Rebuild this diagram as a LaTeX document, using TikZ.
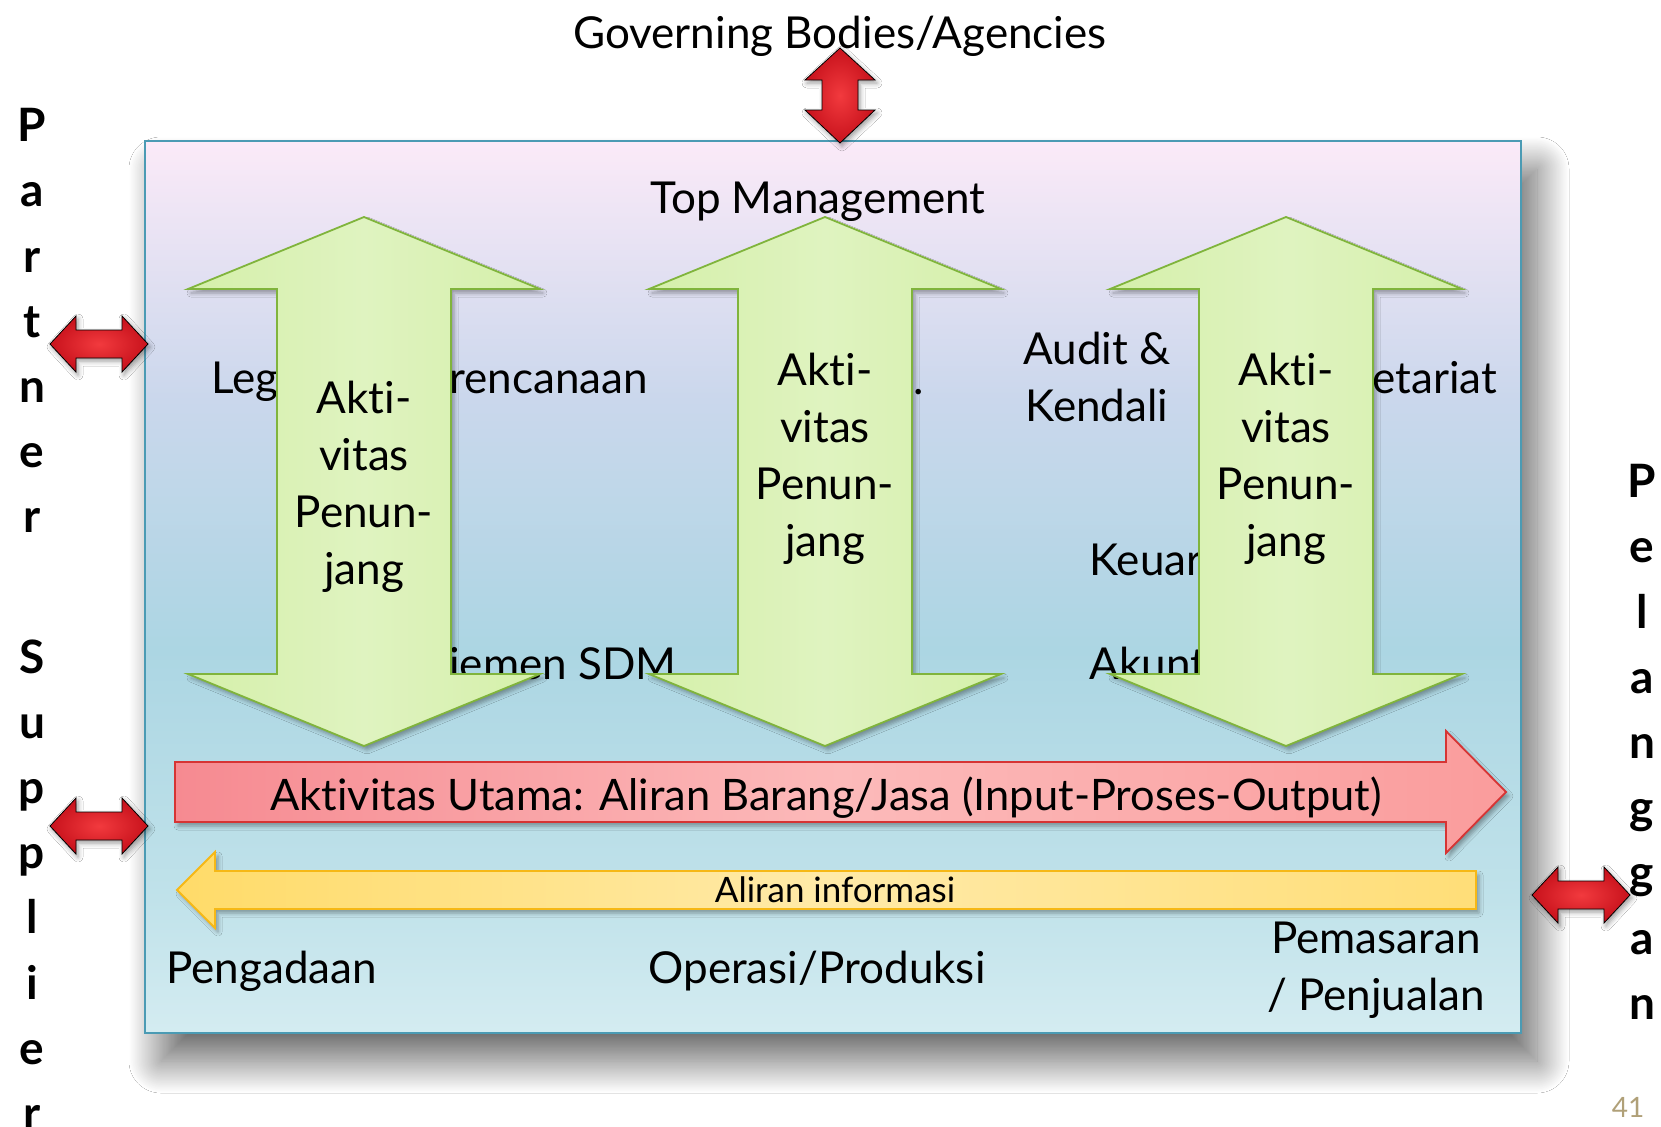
\documentclass[tikz,border=0pt]{standalone}
\usepackage{fontspec}
\setmainfont{Lato}[Ligatures={NoCommon}]
\usepackage{tikz}
\usetikzlibrary{shadows.blur}

\definecolor{panelA}{RGB}{251,234,248}
\definecolor{panelB}{RGB}{202,215,236}
\definecolor{panelC}{RGB}{172,214,227}
\definecolor{panelD}{RGB}{192,226,234}
\definecolor{panelE}{RGB}{212,236,241}
\definecolor{panelline}{RGB}{75,155,180}
\definecolor{supline}{RGB}{128,180,60}
\definecolor{supside}{RGB}{213,240,170}
\definecolor{supmid}{RGB}{223,243,192}
\definecolor{mainline}{RGB}{214,52,52}
\definecolor{mainleft}{RGB}{246,138,145}
\definecolor{mainmid}{RGB}{252,186,186}
\definecolor{mainright}{RGB}{250,156,156}
\definecolor{infoline}{RGB}{246,184,22}
\definecolor{infoleft}{RGB}{255,219,105}
\definecolor{infomid}{RGB}{255,234,168}
\definecolor{inforight}{RGB}{255,222,120}
\definecolor{linkin}{RGB}{242,58,62}
\definecolor{linkout}{RGB}{200,18,28}
\definecolor{pagenum}{RGB}{176,160,120}

\pgfdeclareverticalshading{panelshade}{100bp}{color(0bp)=(panelE); color(25bp)=(panelE);
  color(32.5bp)=(panelD); color(46.5bp)=(panelC); color(60.5bp)=(panelB);
  color(75bp)=(panelA); color(100bp)=(panelA)}

\begin{document}
\begin{tikzpicture}[x=0.5pt, y=-0.5pt,
    panel/.style={draw=panelline, line width=1.2pt, shading=panelshade,
        minimum width=688pt, minimum height=446pt,
        blur shadow={shadow xshift=8pt, shadow yshift=-14pt, shadow blur radius=16pt,
            shadow blur steps=60, shadow opacity=60}},
    support/.style={draw=supline, line width=0.9pt, left color=supside, right color=supside, middle color=supmid,
        blur shadow={shadow xshift=1.5pt, shadow yshift=-2pt, shadow blur radius=2pt, shadow opacity=35}},
    mainflow/.style={draw=mainline, line width=0.9pt, left color=mainleft, right color=mainright, middle color=mainmid,
        blur shadow={shadow xshift=1.5pt, shadow yshift=-2pt, shadow blur radius=2pt, shadow opacity=35}},
    infoflow/.style={draw=infoline, line width=0.9pt, left color=infoleft, right color=inforight, middle color=infomid,
        blur shadow={shadow xshift=1.5pt, shadow yshift=-2pt, shadow blur radius=2pt, shadow opacity=35}},
    redlink/.style={inner color=linkin, outer color=linkout,
        blur shadow={shadow xshift=1pt, shadow yshift=-1.5pt, shadow blur radius=2.5pt, shadow opacity=40}},
    txt/.style={font=\fontsize{22}{28.5}\selectfont, inner sep=0pt},
    vword/.style={font=\bfseries\fontsize{23}{32.6}\selectfont, align=center, inner sep=0pt, anchor=north}
]

% Page
\fill[white] (0,0) rectangle (1661,1126);
\useasboundingbox (0,0) rectangle (1661,1126);

% Organisation panel
\node[panel] (org) at (833,587) {};

% Support units (partly hidden behind the arrows)
\node[txt, anchor=base west] (legal) at (211,393) {Leg};
\node[txt, anchor=base west] (plan) at (449,393) {rencanaan};
\node[txt, anchor=base west] (sdm) at (449,679) {iemen SDM};
\node[txt, anchor=base west] (dot) at (913,394) {.};
\node[txt, align=center] (audit) at (1097,377) {Audit \&\\Kendali};
\node[txt, anchor=base west] (sekr) at (1372,393) {etariat};
\node[txt, anchor=base west] (keu) at (1089,575) {Keuar};
\node[txt, anchor=base west] (akun) at (1089,679) {Akunt};

% Supporting activity arrows
\draw[support] (364,217) -- ++(176,72) -- ++(-89,0) -- ++(0,385) -- ++(89,0) -- ++(-176,72)
    -- ++(-176,-72) -- ++(89,0) -- ++(0,-385) -- ++(-89,0) -- cycle;
\draw[support] (825,217) -- ++(176,72) -- ++(-89,0) -- ++(0,385) -- ++(89,0) -- ++(-176,72)
    -- ++(-176,-72) -- ++(89,0) -- ++(0,-385) -- ++(-89,0) -- cycle;
\draw[support] (1286,217) -- ++(176,72) -- ++(-89,0) -- ++(0,385) -- ++(89,0) -- ++(-176,72)
    -- ++(-176,-72) -- ++(89,0) -- ++(0,-385) -- ++(-89,0) -- cycle;

\node[txt, align=center] (supL) at (364,487) {Akti-\\vitas\\Penun-\\jang};
\node[txt, align=center] (supM) at (825,459) {Akti-\\vitas\\Penun-\\jang};
\node[txt, align=center] (supR) at (1286,459) {Akti-\\vitas\\Penun-\\jang};

\node[txt, anchor=base] (top) at (818,213) {Top Management};

% Primary flow and information flow
\draw[mainflow] (175,762) -- (1446,762) -- (1446,731) -- (1506,792) -- (1446,853) -- (1446,822) -- (175,822) -- cycle;
\node[txt, font=\fontsize{21.7}{28.5}\selectfont, anchor=base] (primary) at (826,810) {Aktivitas Utama: Aliran Barang/Jasa (Input-Proses-Output)};

\draw[infoflow] (1476,871) -- (215,871) -- (215,852) -- (177,890) -- (215,928) -- (215,909) -- (1476,909) -- cycle;
\node[txt, font=\fontsize{17.5}{20}\selectfont, anchor=base] (info) at (835,902) {Aliran informasi};

% Functions
\node[txt, anchor=base west] (proc) at (166,983) {Pengadaan};
\node[txt, anchor=base] (ops) at (817,983) {Operasi/Produksi};
\node[txt, align=center] (sales) at (1376,970) {Pemasaran\\/ Penjualan};

% Outside parties
\node[txt, anchor=base] (gov) at (840,48) {Governing Bodies/Agencies};
\draw[redlink] (840,48) -- ++(35,32) -- ++(-17,0) -- ++(0,30) -- ++(17,0) -- ++(-35,33)
    -- ++(-35,-33) -- ++(17,0) -- ++(0,-30) -- ++(-17,0) -- cycle;

\draw[redlink] (50,344) -- ++(26,-28) -- ++(0,14) -- ++(46,0) -- ++(0,-14) -- ++(26,28)
    -- ++(-26,28) -- ++(0,-14) -- ++(-46,0) -- ++(0,14) -- cycle;
\draw[redlink] (50,826) -- ++(26,-28) -- ++(0,14) -- ++(46,0) -- ++(0,-14) -- ++(26,28)
    -- ++(-26,28) -- ++(0,-14) -- ++(-46,0) -- ++(0,14) -- cycle;
\draw[redlink] (1532,895) -- ++(26,-28) -- ++(0,14) -- ++(46,0) -- ++(0,-14) -- ++(26,28)
    -- ++(-26,28) -- ++(0,-14) -- ++(-46,0) -- ++(0,14) -- cycle;

\node[vword] (partner) at (32,108) {P\\a\\r\\t\\n\\e\\r};
\node[vword] (supplier) at (32,639) {S\\u\\p\\p\\l\\i\\e\\r};
\node[vword] (customer) at (1642,464) {P\\e\\l\\a\\n\\g\\g\\a\\n};

\node[font=\fontsize{14}{16}\selectfont, text=pagenum] (page) at (1628,1107) {41};

\end{tikzpicture}
\end{document}
